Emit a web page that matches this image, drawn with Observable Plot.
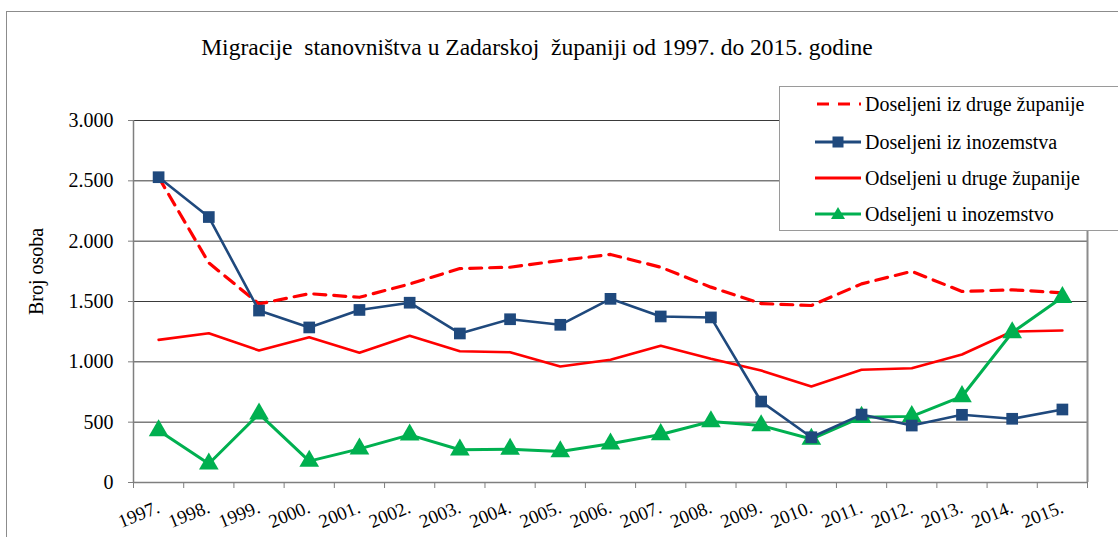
<!DOCTYPE html>
<html>
<head>
<meta charset="utf-8">
<script src="https://cdn.jsdelivr.net/npm/d3@7"></script>
<script src="https://cdn.jsdelivr.net/npm/@observablehq/plot@0.6"></script>
<style>
  html, body { margin: 0; padding: 0; background: #fff; overflow: hidden; }
  #wrap { position: relative; width: 1118px; height: 537px; overflow: hidden; font-family: "Liberation Serif", "Times New Roman", Times, "DejaVu Serif", serif; }
  #frame { position: absolute; left: 6px; top: 11px; width: 1300px; height: 700px; border: 1px solid #8c8c8c; }
  #chart { position: absolute; left: 0; top: 0; }
  #title { position: absolute; left: 0; top: 34px; width: 1074px; text-align: center; font-size: 23.5px; white-space: pre; color: #000; }
  #legend { position: absolute; left: 779px; top: 86px; width: 400px; height: 143px; border: 1px solid #9a9a9a; background: #fff; }
  .row { position: absolute; left: 35px; height: 24px; display: flex; align-items: center; font-size: 20px; color: #000; white-space: nowrap; }
  .row svg { margin-right: 4px; }
</style>
</head>
<body>
<div id="wrap">
  <div id="frame"></div>
  <div id="chart"></div>
  <div id="title">Migracije  stanovništva u Zadarskoj  županiji od 1997. do 2015. godine</div>
  <div id="legend"></div>
</div>
<script>
const years = [1997,1998,1999,2000,2001,2002,2003,2004,2005,2006,2007,2008,2009,2010,2011,2012,2013,2014,2015];
const doseljeniDruge = [2530,1820,1480,1565,1535,1645,1773,1784,1840,1890,1784,1619,1483,1467,1646,1750,1583,1597,1572];
const doseljeniInozemstvo = [2530,2200,1425,1285,1430,1490,1235,1353,1307,1522,1376,1368,671,375,563,472,561,528,605];
const odseljeniDruge = [1182,1237,1094,1204,1075,1216,1088,1080,961,1017,1133,1025,928,796,934,947,1061,1251,1260];
const odseljeniInozemstvo = [431,155,569,177,279,395,271,276,257,321,398,505,472,360,541,548,713,1243,1535];
const yTicks = [0,500,1000,1500,2000,2500,3000];
const seriesNames = ["Doseljeni iz druge županije","Doseljeni iz inozemstva","Odseljeni u druge županije","Odseljeni u inozemstvo"];

const FONT = "'Liberation Serif', 'Times New Roman', Times, 'DejaVu Serif', serif";
const RED = "#FF0000", BLUE = "#1F497D", GREEN = "#00B050";
const toRows = arr => years.map((yr, i) => ({year: yr, v: arr[i]}));
const dD = toRows(doseljeniDruge), dI = toRows(doseljeniInozemstvo), oD = toRows(odseljeniDruge), oI = toRows(odseljeniInozemstvo);
const fmt = d => d3.format(",")(d).replace(/,/g, ".");
const halfYears = [...years.map(y => y - 0.5), years[years.length-1] + 0.5];

const plot = Plot.plot({
  width: 1118,
  height: 537,
  marginLeft: 133,
  marginRight: 31,
  marginTop: 120,
  marginBottom: 55,
  style: {fontFamily: FONT, fontSize: "20px", color: "#000", background: "transparent"},
  x: {domain: [1996.5, 2015.5]},
  y: {domain: [0, 3000]},
  marks: [
    Plot.ruleY(yTicks.filter(d => d > 0), {stroke: "#3a3a3a", strokeWidth: 1}),
    Plot.ruleX([2015.5], {stroke: "#8c8c8c", strokeWidth: 2}),
    Plot.ruleX([1996.5], {stroke: "#7f7f7f", strokeWidth: 1.5}),
    Plot.ruleY([0], {stroke: "#7f7f7f", strokeWidth: 1.5}),
    Plot.axisY({ticks: yTicks, tickFormat: fmt, tickSize: 5, tickPadding: 15, stroke: "#7f7f7f", fill: "#000", fontSize: 20, fontFamily: FONT, label: null}),
    Plot.axisX({ticks: halfYears, tickFormat: () => "", tickSize: 6, stroke: "#7f7f7f", label: null}),
    Plot.axisX({ticks: years, tickFormat: d => d + ".", tickSize: 0, tickPadding: 24, tickRotate: -22, fill: "#000", fontSize: 19, fontFamily: FONT, label: null}),
    Plot.text(["Broj osoba"], {frameAnchor: "left", textAnchor: "middle", dx: -97, dy: -30, rotate: -90, fontSize: 20, fontFamily: FONT, fill: "#000"}),
    Plot.line(oD, {x: "year", y: "v", stroke: RED, strokeWidth: 2.6}),
    Plot.line(dD, {x: "year", y: "v", stroke: RED, strokeWidth: 3.2, strokeDasharray: "12,8"}),
    Plot.line(oI, {x: "year", y: "v", stroke: GREEN, strokeWidth: 3}),
    Plot.dot(oI, {x: "year", y: "v", symbol: "triangle", r: 7.3, fill: GREEN, stroke: null}),
    Plot.line(dI, {x: "year", y: "v", stroke: BLUE, strokeWidth: 2.6}),
    Plot.dot(dI, {x: "year", y: "v", symbol: "square", r: 6.6, fill: BLUE, stroke: null})
  ]
});
document.getElementById("chart").appendChild(plot);

// legend
const legend = document.getElementById("legend");
const legendStyles = [
  {stroke: RED, dash: "12,9", marker: null},
  {stroke: BLUE, dash: null, marker: "square"},
  {stroke: RED, dash: null, marker: null},
  {stroke: GREEN, dash: null, marker: "triangle"}
];
const rowTops = [5, 43, 79, 115];
seriesNames.forEach((name, i) => {
  const s = legendStyles[i];
  const row = document.createElement("div");
  row.className = "row";
  row.style.top = rowTops[i] + "px";
  let marker = "";
  if (s.marker === "square") marker = `<rect x="17.5" y="5.5" width="11" height="11" fill="${s.stroke}"/>`;
  if (s.marker === "triangle") marker = `<path d="M23,4 L30,16 L16,16 Z" fill="${s.stroke}"/>`;
  row.innerHTML = `<svg width="46" height="22"><line x1="0" x2="46" y1="11" y2="11" stroke="${s.stroke}" stroke-width="3" ${s.dash ? `stroke-dasharray="${s.dash}" stroke-dashoffset="-2"` : ""}/>${marker}</svg><span>${name}</span>`;
  legend.appendChild(row);
});
</script>
</body>
</html>
